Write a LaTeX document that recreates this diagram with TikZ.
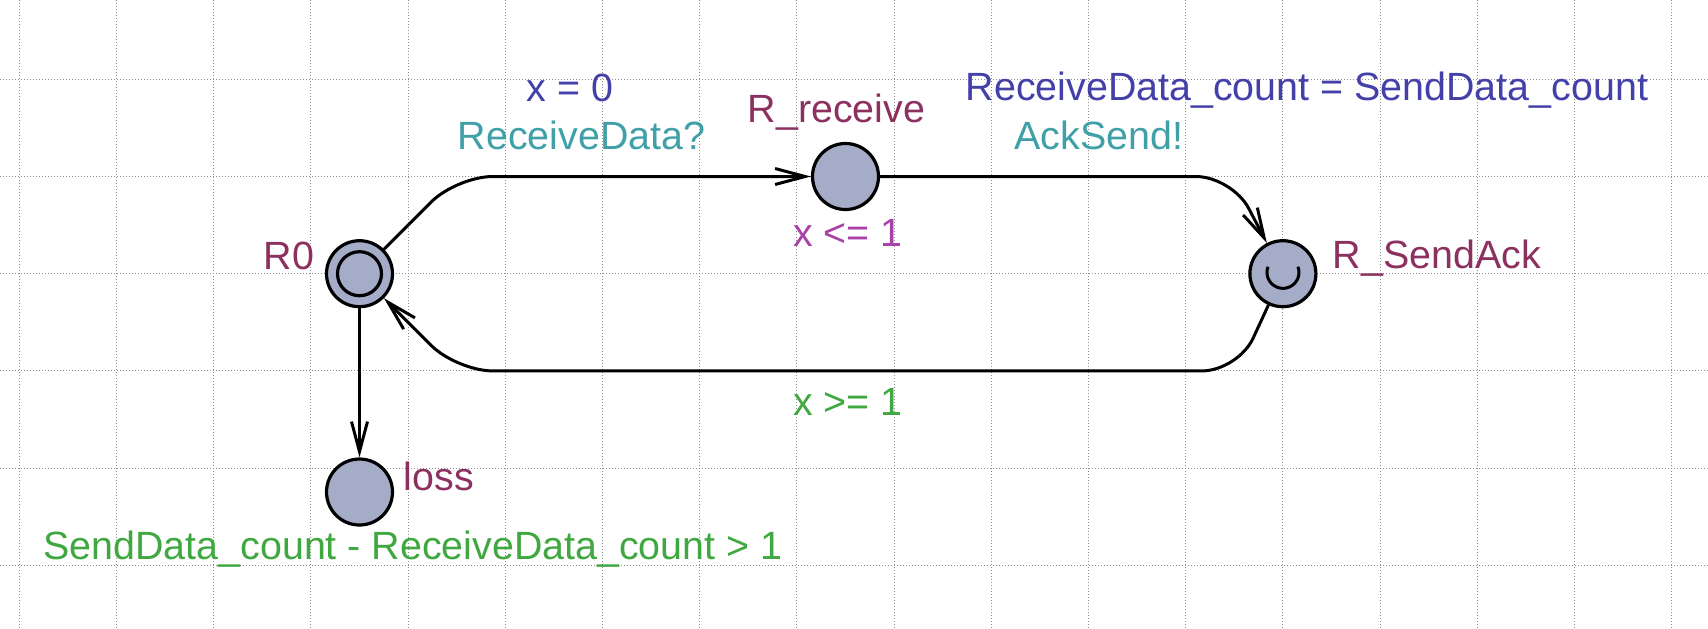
\documentclass[tikz,border=0pt]{standalone}
\usepackage{fontspec}
\setmainfont{Liberation Sans}
\usetikzlibrary{arrows.meta}
\definecolor{locname}{RGB}{140,48,96}
\definecolor{assigncol}{RGB}{68,64,170}
\definecolor{synccol}{RGB}{64,160,168}
\definecolor{invcol}{RGB}{170,64,170}
\definecolor{guardcol}{RGB}{64,168,64}
\definecolor{locfill}{RGB}{165,172,200}
\definecolor{gridcol}{RGB}{140,140,140}
\begin{document}
\begin{tikzpicture}[x=0.5pt,y=-0.5pt,
  loc/.style={circle,draw=black,fill=locfill,line width=1.6pt,minimum size=33pt,inner sep=0pt},
  lbl/.style={anchor=base,inner sep=0pt,font=\fontsize{19.7}{23}\selectfont},
  edgeline/.style={line width=1.5pt,rounded corners=18pt,-{Straight Barb[length=15pt,width=8pt]}},
  gridline/.style={draw=gridcol,line width=0.5pt,dash pattern=on 0.5pt off 1pt}]
\useasboundingbox (0,0) rectangle (1708,628);
\fill[white] (0,0) rectangle (1708,628);
% grid
\foreach \i in {0,...,17} \draw[gridline] ({19.3+97.2*\i},0) -- ({19.3+97.2*\i},628);
\foreach \j in {0,...,5} \draw[gridline] (0,{79.3+97.2*\j}) -- (1708,{79.3+97.2*\j});
% locations
\node[loc] (R0) at (359.5,273.7) {};
\draw[line width=1.6pt] (R0.center) circle[radius=22];
\node[loc] (Rrecv) at (845.5,176.5) {};
\node[loc] (Rack) at (1282.9,273.7) {};
\draw[line width=1.5pt] (1268,266.7) arc[start angle=200.7,end angle=-20.7,radius=16];
\node[loc] (loss) at (359.5,492) {};
% nails
\coordinate (n1) at (456.7,176.5);
\coordinate (n2) at (1232,176.5);
\coordinate (n3) at (1238,370.9);
\coordinate (n4) at (456.7,370.9);
% edges
\draw[edgeline] (R0) -- (n1) -- (Rrecv);
\draw[edgeline] (Rrecv) -- (n2) -- (Rack);
\draw[edgeline] (Rack) -- (n3) -- (n4) -- (R0);
\draw[edgeline] (R0) -- (loss);
% labels
\node[lbl,text=locname] (tR0) at (289,269) {R0};
\node[lbl,text=locname] (tRrecv) at (836.4,122.7) {R\_receive};
\node[lbl,text=locname] (tRack) at (1437,268) {R\_SendAck};
\node[lbl,text=locname] (tloss) at (438.7,490) {loss};
\node[lbl,text=invcol] (tinv) at (848,246) {x <= 1};
\node[lbl,text=assigncol] (tasg) at (570,101) {x = 0};
\node[lbl,text=synccol] (tsync1) at (581.5,149.3) {ReceiveData?};
\node[lbl,text=assigncol] (tguard1) at (1307,100.7) {ReceiveData\_count = SendData\_count};
\node[lbl,text=synccol] (tsync2) at (1099,149.3) {AckSend!};
\node[lbl,text=guardcol] (tguard2) at (848,415) {x >= 1};
\node[lbl,text=guardcol] (tguard3) at (413,559) {SendData\_count - ReceiveData\_count > 1};
\end{tikzpicture}
\end{document}
